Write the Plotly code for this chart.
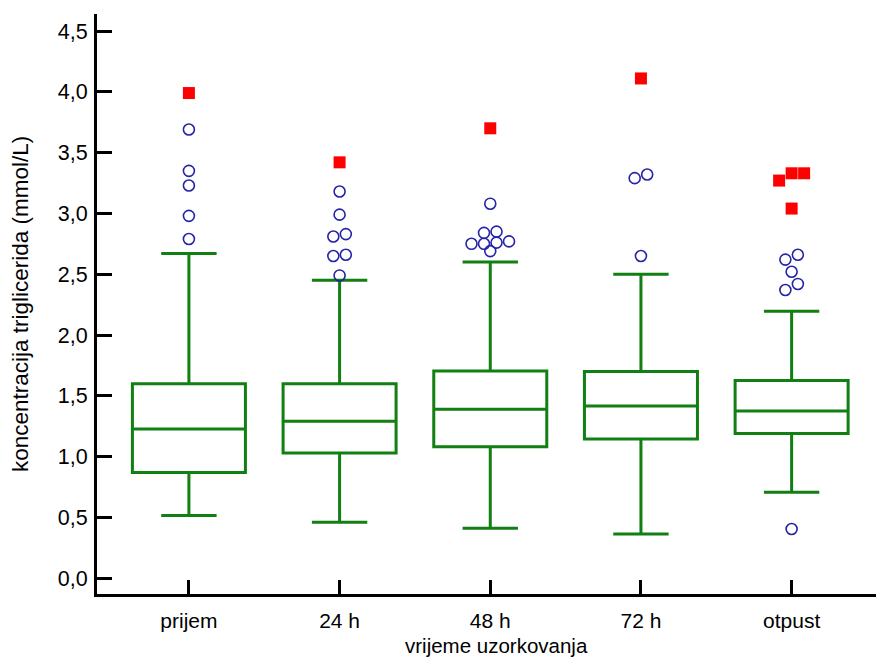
import plotly.graph_objects as go

# ---- data ----
categories = ["prijem", "24 h", "48 h", "72 h", "otpust"]
q1 = [0.87, 1.03, 1.08, 1.145, 1.19]
median = [1.228, 1.29, 1.39, 1.417, 1.376]
q3 = [1.60, 1.60, 1.705, 1.70, 1.625]
lower_whisker = [0.515, 0.46, 0.41, 0.364, 0.707]
upper_whisker = [2.67, 2.45, 2.60, 2.50, 2.195]
outliers = {
    "prijem": [3.69, 3.35, 3.23, 2.98, 2.79],
    "24 h": [3.18, 2.99, 2.83, 2.81, 2.66, 2.65, 2.49],
    "48 h": [3.08, 2.85, 2.84, 2.77, 2.76, 2.75, 2.75, 2.69],
    "72 h": [3.32, 3.29, 2.65],
    "otpust": [2.66, 2.62, 2.52, 2.42, 2.37, 0.405],
}
far_outliers = {
    "prijem": [3.99],
    "24 h": [3.42],
    "48 h": [3.70],
    "72 h": [4.11],
    "otpust": [3.33, 3.33, 3.27, 3.04],
}
y_tickvals = [0.0, 0.5, 1.0, 1.5, 2.0, 2.5, 3.0, 3.5, 4.0, 4.5]
x_title = "vrijeme uzorkovanja"
y_title = "koncentracija triglicerida (mmol/L)"

# ---- layout geometry ----
W, H = 876, 659
margin = dict(l=97, r=0, t=14, b=65)
x_range = [-0.61, 4.56]
y_range = [-0.13, 4.64]
px_per_x = (W - margin["l"] - margin["r"]) / (x_range[1] - x_range[0])

GREEN = "#127f12"
BLUE = "#2424a4"
RED = "#ff0000"


def dodge(values, step_px, thresh):
    """Group near-equal values and spread each group symmetrically."""
    vals = sorted(values)
    groups, cur = [], [vals[0]]
    for v in vals[1:]:
        if v - cur[-1] < thresh:
            cur.append(v)
        else:
            groups.append(cur)
            cur = [v]
    groups.append(cur)
    xs, ys = [], []
    for g in groups:
        n = len(g)
        for i, v in enumerate(g):
            xs.append((i - (n - 1) / 2) * step_px / px_per_x)
            ys.append(v)
    return xs, ys


fig = go.Figure()
positions = list(range(len(categories)))

fig.add_trace(go.Box(
    x=positions,
    q1=q1, median=median, q3=q3,
    lowerfence=lower_whisker, upperfence=upper_whisker,
    boxpoints=False,
    width=0.75,
    whiskerwidth=0.49,
    fillcolor="rgba(0,0,0,0)",
    line=dict(color=GREEN, width=3),
    showlegend=False,
    hoverinfo="skip",
))

ox, oy, fx, fy = [], [], [], []
for i, c in enumerate(categories):
    dx, vy = dodge(outliers[c], 12.5, 0.055)
    ox += [i + d for d in dx]
    oy += vy
    dx, vy = dodge(far_outliers[c], 12.5, 0.075)
    fx += [i + d for d in dx]
    fy += vy

fig.add_trace(go.Scatter(
    x=ox, y=oy, mode="markers",
    marker=dict(symbol="circle-open", size=11, color=BLUE, line=dict(width=1.6, color=BLUE)),
    showlegend=False,
))
fig.add_trace(go.Scatter(
    x=fx, y=fy, mode="markers",
    marker=dict(symbol="square", size=12, color=RED, line=dict(width=0)),
    showlegend=False,
))

font_family = "Liberation Sans, Arial, sans-serif"
fig.update_layout(
    width=W, height=H,
    margin=margin,
    paper_bgcolor="white",
    plot_bgcolor="white",
    separators=",.",
    font=dict(family=font_family, color="black", size=22),
    xaxis=dict(
        range=x_range,
        tickvals=positions,
        ticktext=categories,
        ticks="inside", ticklen=14, tickwidth=2.5, tickcolor="black",
        showline=True, linecolor="black", linewidth=3,
        showgrid=False, zeroline=False,
        tickfont=dict(size=21),
        ticklabelstandoff=6,
    ),
    yaxis=dict(
        range=y_range,
        tickvals=y_tickvals,
        tickformat=".1f",
        ticks="inside", ticklen=15, tickwidth=2.5, tickcolor="black",
        showline=True, linecolor="black", linewidth=3,
        showgrid=False, zeroline=False,
        tickfont=dict(size=21.5),
        ticklabelstandoff=2,
    ),
    annotations=[
        dict(text=x_title, xref="paper", yref="paper", x=0.5, y=0,
             xanchor="center", yanchor="middle", yshift=-51, xshift=10,
             showarrow=False, font=dict(size=20.5)),
        dict(text=y_title, xref="paper", yref="paper", x=0, y=0.5,
             xanchor="center", yanchor="middle", xshift=-77, textangle=-90,
             showarrow=False, font=dict(size=22.5)),
    ],
)

fig.write_html(
    "out.html",
    config={"displayModeBar": False},
    post_script="document.body.style.margin='0';document.body.style.overflow='hidden';",
)
